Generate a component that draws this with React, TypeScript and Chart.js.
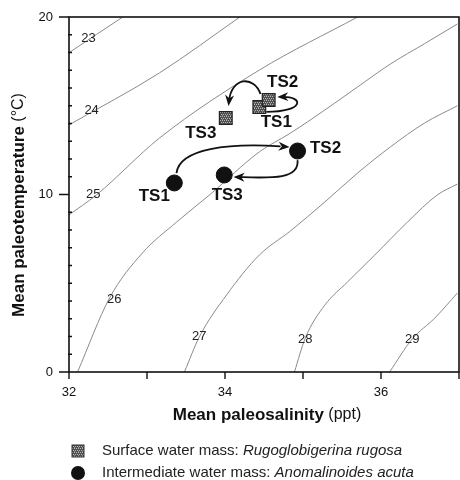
import React, { useEffect, useRef } from 'react';
import { Chart, registerables } from 'chart.js';

Chart.register(...registerables);

const FONT = '"Liberation Sans", Arial, Helvetica, sans-serif';

// ---- axes ----
const xTicks = [32, 33, 34, 35, 36, 37];
const xTickLabels = ['32', '', '34', '', '36', ''];
const yTicks = [0, 1, 2, 3, 4, 5, 6, 7, 8, 9, 10, 11, 12, 13, 14, 15, 16, 17, 18, 19, 20];
const yMajorTicks = [0, 10, 20];

// ---- samples (salinity ppt, temperature °C) ----
const sampleNames = ['TS1', 'TS2', 'TS3'];
const surfaceSalinity = [34.44, 34.56, 34.01];
const surfaceTemperature = [14.93, 15.32, 14.31];
const intermediateSalinity = [33.35, 34.93, 33.99];
const intermediateTemperature = [10.65, 12.45, 11.1];

// ---- isopycnals (sigma-t): [salinity, temperature] ----
const isoLevels = ['23', '24', '25', '26', '27', '28', '29'];
const iso23 = [[32.0, 17.99], [32.35, 19.01], [32.69, 20.0]];
const iso24 = [[32.0, 13.92], [33.16, 16.85], [34.19, 20.0]];
const iso25 = [[32.0, 8.85], [32.35, 9.97], [33.16, 13.18], [34.44, 17.01], [35.7, 20.0]];
const iso26 = [[32.11, 0], [32.52, 4.17], [32.94, 6.7], [33.38, 8.45], [33.8, 9.97], [34.44, 12.4], [34.84, 13.46], [35.28, 14.76], [35.7, 16.06], [36.12, 17.35], [36.56, 18.5], [36.98, 19.61]];
const iso27 = [[33.48, 0], [33.67, 1.97], [34.02, 4.34], [34.44, 6.59], [34.84, 7.95], [35.28, 9.58], [35.7, 11.21], [36.12, 12.68], [36.56, 14.03], [36.98, 15.0]];
const iso28 = [[34.89, 0], [35.03, 1.92], [35.28, 3.77], [35.57, 5.07], [35.92, 6.59], [36.34, 8.45], [36.72, 9.97], [36.98, 10.59]];
const iso29 = [[36.11, 0], [36.4, 1.86], [36.69, 3.04], [36.98, 4.45]];
const isoLines = [iso23, iso24, iso25, iso26, iso27, iso28, iso29];
const isoLabelSalinity = [32.25, 32.29, 32.31, 32.58, 33.67, 35.03, 36.4];
const isoLabelTemperature = [18.82, 14.76, 10.03, 4.11, 2.03, 1.86, 1.86];

// ---- arrows (cubic curves in data units) ----
const surfaceArrows = [
  [[34.455, 15.66], [34.378, 16.68], [34.083, 16.68], [34.045, 14.99]],
  [[34.53, 14.65], [35.02, 14.65], [35.02, 15.55], [34.67, 15.49]],
];
const intermediateArrows = [
  [[33.378, 11.21], [33.417, 12.62], [34.058, 12.9], [34.827, 12.68]],
  [[34.93, 11.94], [34.955, 10.82], [34.57, 10.93], [34.11, 10.99]],
];

// label offsets (px) relative to marker
const surfaceLabelOffsets = [[17, 15], [14, -18], [-25, 15]];
const intermediateLabelOffsets = [[-20, 13], [28, -3], [3, 20]];

function makePattern(): CanvasPattern | string {
  const pc = document.createElement('canvas');
  pc.width = 4;
  pc.height = 4;
  const p = pc.getContext('2d');
  if (!p) return '#666';
  p.fillStyle = '#505050';
  p.fillRect(0, 0, 4, 4);
  p.fillStyle = '#b8b8b8';
  p.fillRect(0, 0, 1, 1);
  p.fillRect(2, 0, 1, 1);
  p.fillRect(1, 2, 1, 1);
  p.fillRect(3, 2, 1, 1);
  p.fillStyle = '#8a8a8a';
  p.fillRect(2, 3, 1, 1);
  const pat = p.createPattern(pc, 'repeat');
  return pat || '#666';
}

function drawArrowHead(ctx: CanvasRenderingContext2D, x: number, y: number, fromX: number, fromY: number) {
  const ang = Math.atan2(y - fromY, x - fromX);
  const len = 11;
  const w = 4.5;
  ctx.save();
  ctx.translate(x, y);
  ctx.rotate(ang);
  ctx.beginPath();
  ctx.moveTo(0, 0);
  ctx.lineTo(-len, -w);
  ctx.lineTo(-len * 0.7, 0);
  ctx.lineTo(-len, w);
  ctx.closePath();
  ctx.fillStyle = '#111';
  ctx.fill();
  ctx.restore();
}

export default function App() {
  const ref = useRef<HTMLCanvasElement | null>(null);

  useEffect(() => {
    const canvas = ref.current;
    if (!canvas) return;
    const pattern = makePattern();

    const overlay = {
      id: 'overlay',
      afterDatasetsDraw(chart: any) {
        const ctx: CanvasRenderingContext2D = chart.ctx;
        const xs = chart.scales.x;
        const ys = chart.scales.y;
        const px = (v: number) => xs.getPixelForValue(v);
        const py = (v: number) => ys.getPixelForValue(v);

        // contour labels
        ctx.save();
        ctx.font = `13px ${FONT}`;
        ctx.fillStyle = '#222';
        ctx.textAlign = 'center';
        ctx.textBaseline = 'middle';
        isoLevels.forEach((lvl, i) => {
          ctx.fillText(lvl, px(isoLabelSalinity[i]), py(isoLabelTemperature[i]));
        });
        ctx.restore();

        // arrows
        ctx.save();
        ctx.strokeStyle = '#111';
        ctx.lineWidth = 1.8;
        [...surfaceArrows, ...intermediateArrows].forEach((a) => {
          const p = a.map(([s, t]) => [px(s), py(t)]);
          ctx.beginPath();
          ctx.moveTo(p[0][0], p[0][1]);
          ctx.bezierCurveTo(p[1][0], p[1][1], p[2][0], p[2][1], p[3][0] - (p[3][0] - p[2][0]) * 0.15, p[3][1] - (p[3][1] - p[2][1]) * 0.15);
          ctx.stroke();
          drawArrowHead(ctx, p[3][0], p[3][1], p[2][0], p[2][1]);
        });
        ctx.restore();

        // sample labels
        ctx.save();
        ctx.font = `bold 17px ${FONT}`;
        ctx.fillStyle = '#111';
        ctx.textAlign = 'center';
        ctx.textBaseline = 'middle';
        sampleNames.forEach((n, i) => {
          ctx.fillText(n, px(surfaceSalinity[i]) + surfaceLabelOffsets[i][0], py(surfaceTemperature[i]) + surfaceLabelOffsets[i][1]);
          ctx.fillText(n, px(intermediateSalinity[i]) + intermediateLabelOffsets[i][0], py(intermediateTemperature[i]) + intermediateLabelOffsets[i][1]);
        });
        ctx.restore();
      },
      afterDraw(chart: any) {
        const ctx: CanvasRenderingContext2D = chart.ctx;
        const { left, right, top, bottom } = chart.chartArea;
        const xs = chart.scales.x;
        const ys = chart.scales.y;
        ctx.save();
        ctx.strokeStyle = '#111';
        ctx.lineWidth = 1.6;
        ctx.strokeRect(left, top, right - left, bottom - top);
        ctx.lineWidth = 1.4;
        ctx.beginPath();
        xTicks.forEach((v) => {
          const x = xs.getPixelForValue(v);
          ctx.moveTo(x, bottom);
          ctx.lineTo(x, bottom + 7);
        });
        yTicks.forEach((v) => {
          const y = ys.getPixelForValue(v);
          if (yMajorTicks.includes(v)) {
            ctx.moveTo(left - 10, y);
            ctx.lineTo(left, y);
          } else {
            ctx.moveTo(left - 1, y);
            ctx.lineTo(left + 3, y);
          }
        });
        ctx.stroke();

        // axis titles
        ctx.fillStyle = '#111';
        ctx.textBaseline = 'middle';
        ctx.textAlign = 'left';
        const drawMixed = (bold: string, normal: string, cx: number, cy: number) => {
          ctx.font = `bold 17px ${FONT}`;
          const w1 = ctx.measureText(bold).width;
          ctx.font = `16px ${FONT}`;
          const w2 = ctx.measureText(normal).width;
          const x0 = cx - (w1 + w2) / 2;
          ctx.font = `bold 17px ${FONT}`;
          ctx.fillText(bold, x0, cy);
          ctx.font = `16px ${FONT}`;
          ctx.fillText(normal, x0 + w1, cy);
        };
        drawMixed('Mean paleosalinity', ' (ppt)', 267, 415);
        ctx.save();
        ctx.translate(19, 205);
        ctx.rotate(-Math.PI / 2);
        drawMixed('Mean paleotemperature', ' (\u00B0C)', 0, 0);
        ctx.restore();

        // legend
        ctx.fillStyle = pattern as any;
        ctx.fillRect(72, 445, 12, 12);
        ctx.strokeStyle = '#333';
        ctx.lineWidth = 1;
        ctx.strokeRect(72, 445, 12, 12);
        ctx.fillStyle = '#111';
        ctx.beginPath();
        ctx.arc(78, 473, 7, 0, Math.PI * 2);
        ctx.fill();
        const legendRow = (plain: string, ital: string, y: number) => {
          ctx.fillStyle = '#222';
          ctx.font = `15px ${FONT}`;
          ctx.fillText(plain, 102, y);
          const w = ctx.measureText(plain).width;
          ctx.font = `italic 15px ${FONT}`;
          ctx.fillText(ital, 102 + w, y);
        };
        legendRow('Surface water mass: ', 'Rugoglobigerina rugosa', 451);
        legendRow('Intermediate water mass: ', 'Anomalinoides acuta', 473);
        ctx.restore();
      },
    };

    const contourSets = isoLines.map((line, i) => ({
      type: 'line' as const,
      label: `sigma ${isoLevels[i]}`,
      data: line.map(([s, t]) => ({ x: s, y: t })),
      borderColor: '#8a8a8a',
      borderWidth: 1,
      pointRadius: 0,
      fill: false,
      cubicInterpolationMode: 'monotone' as const,
    }));

    const chart = new Chart(canvas, {
      type: 'scatter',
      data: {
        datasets: [
          {
            label: 'Intermediate water mass',
            data: intermediateSalinity.map((s, i) => ({ x: s, y: intermediateTemperature[i] })),
            pointStyle: 'circle',
            pointRadius: 8,
            backgroundColor: '#111',
            borderColor: '#111',
            borderWidth: 1,
          },
          {
            label: 'Surface water mass',
            data: surfaceSalinity.map((s, i) => ({ x: s, y: surfaceTemperature[i] })),
            pointStyle: 'rect',
            pointRadius: 9,
            backgroundColor: pattern as any,
            borderColor: '#222',
            borderWidth: 1.2,
          },
          ...(contourSets as any[]),
        ],
      },
      options: {
        animation: false,
        responsive: false,
        devicePixelRatio: 1,
        layout: { autoPadding: false, padding: { top: 17, right: 1, left: 0, bottom: 0 } },
        plugins: {
          legend: { display: false },
          tooltip: { enabled: false },
        },
        scales: {
          x: {
            type: 'linear',
            min: 32,
            max: 37,
            grid: { display: false, drawTicks: false },
            border: { display: false },
            ticks: {
              stepSize: 1,
              autoSkip: false,
              maxRotation: 0,
              padding: 13,
              color: '#111',
              font: { family: FONT, size: 13 },
              callback: (v: any) => {
                const i = xTicks.indexOf(Number(v));
                return i >= 0 ? xTickLabels[i] : '';
              },
            },
            afterFit: (s: any) => {
              s.height = 108;
              s.paddingLeft = 0;
              s.paddingRight = 0;
            },
          },
          y: {
            type: 'linear',
            min: 0,
            max: 20,
            grid: { display: false, drawTicks: false },
            border: { display: false },
            ticks: {
              stepSize: 1,
              autoSkip: false,
              padding: 16,
              color: '#111',
              font: { family: FONT, size: 13 },
              callback: (v: any) => (yMajorTicks.includes(Number(v)) ? String(v) : ''),
            },
            afterFit: (s: any) => {
              s.width = 69;
              s.paddingTop = 0;
              s.paddingBottom = 0;
            },
          },
        },
      },
      plugins: [overlay],
    } as any);

    return () => chart.destroy();
  }, []);

  return (
    <div style={{ position: 'fixed', left: 0, top: 0, width: 460, height: 480, background: '#fff' }}>
      <canvas ref={ref} width={460} height={480} style={{ width: 460, height: 480, display: 'block' }} />
    </div>
  );
}
